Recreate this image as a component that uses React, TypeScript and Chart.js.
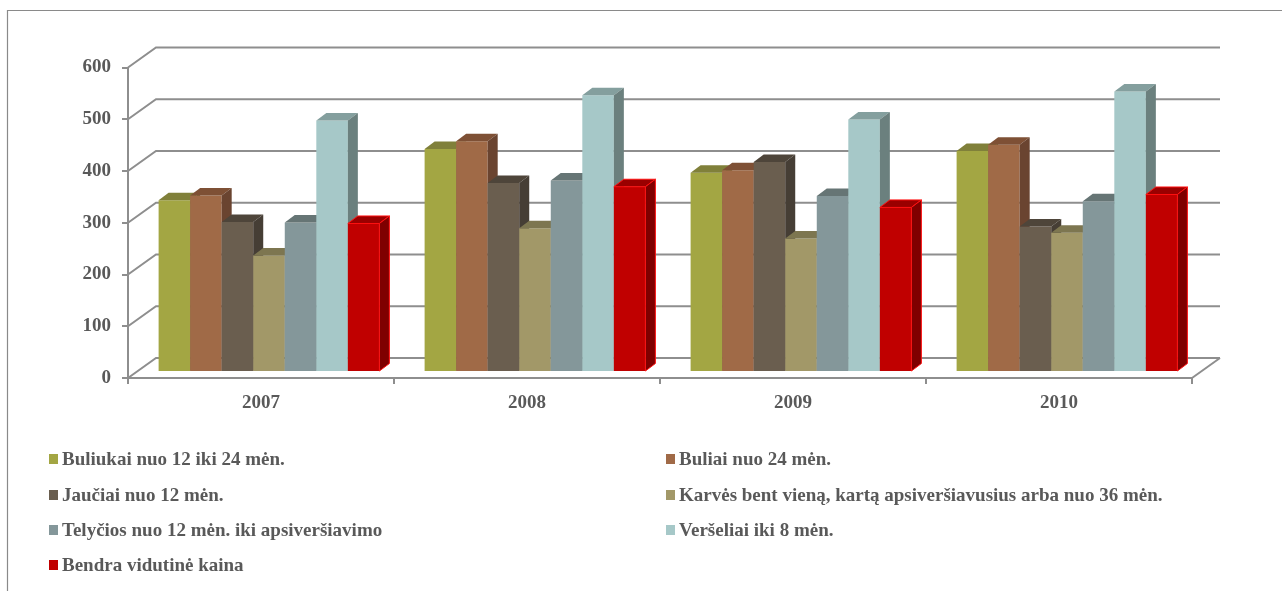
import React, { useEffect, useRef } from 'react';
import { Chart, registerables } from 'chart.js';

Chart.register(...registerables);

// ---------- data ----------
const categories = ['2007', '2008', '2009', '2010'];
const seriesNames = [
  'Buliukai nuo 12 iki 24 mėn.',
  'Buliai nuo 24 mėn.',
  'Jaučiai nuo 12 mėn.',
  'Karvės bent vieną, kartą apsiveršiavusius arba nuo 36 mėn.',
  'Telyčios nuo 12 mėn. iki apsiveršiavimo',
  'Veršeliai iki 8 mėn.',
  'Bendra vidutinė kaina',
];
const buliukai = [332, 431, 385, 427];
const buliai = [341, 446, 390, 439];
const jauciai = [290, 365, 406, 281];
const karves = [225, 278, 258, 269];
const telycios = [289, 370, 340, 330];
const verseliai = [486, 535, 488, 542];
const bendra = [287, 358, 318, 343];
const seriesValues = [buliukai, buliai, jauciai, karves, telycios, verseliai, bendra];
const yMin = 0;
const yMax = 600;
const yStep = 100;

// ---------- styles ----------
const frontColors = ['#A3A643', '#A06A47', '#6A5E4F', '#A29868', '#84979A', '#A6C8C8', '#C00000'];
const topColors = ['#80803A', '#7E5035', '#4E453A', '#7D7650', '#667575', '#849F9E', '#9A0000'];
const sideColors = ['#6E7130', '#6A4430', '#463E35', '#6C6646', '#5F6E6F', '#6B807E', '#7F0000'];
const GRID = '#8E8E8E';
const TEXT = '#595959';
const FONT_FAMILY = "'Liberation Serif', 'Times New Roman', serif";
const FONT_SIZE = 19;

const WALL = { dx: 28, dy: -20 };
const BAR_OFF = { dx: 8, dy: -6 };
const BAR_DEPTH = { dx: 10, dy: -7.5 };

const threeD = {
  id: 'threeD',
  beforeDraw(chart: any) {
    const ctx = chart.ctx;
    ctx.save();
    ctx.strokeStyle = '#8A8A8A';
    ctx.lineWidth = 1.2;
    ctx.beginPath();
    ctx.moveTo(7.5, chart.height + 5);
    ctx.lineTo(7.5, 10.5);
    ctx.lineTo(chart.width + 5, 10.5);
    ctx.stroke();
    ctx.restore();
  },
  beforeDatasetsDraw(chart: any) {
    const ctx = chart.ctx;
    const ys = chart.scales.y;
    const { left, right, bottom } = chart.chartArea;
    ctx.save();
    ctx.strokeStyle = GRID;
    ctx.lineWidth = 2;
    ys.ticks.forEach((t: any) => {
      const y = ys.getPixelForValue(t.value);
      ctx.beginPath();
      ctx.moveTo(left, y);
      ctx.lineTo(left + WALL.dx, y + WALL.dy);
      ctx.lineTo(right + WALL.dx, y + WALL.dy);
      ctx.stroke();
    });
    ctx.beginPath();
    ctx.moveTo(right, bottom);
    ctx.lineTo(right + WALL.dx, bottom + WALL.dy);
    ctx.stroke();
    ctx.restore();
  },
  beforeDatasetDraw() {
    return false;
  },
  afterDatasetsDraw(chart: any) {
    const ctx = chart.ctx;
    ctx.save();
    ctx.translate(BAR_OFF.dx, BAR_OFF.dy);
    chart.data.datasets.forEach((ds: any, i: number) => {
      const meta = chart.getDatasetMeta(i);
      meta.data.forEach((el: any) => {
        const { x, y, base, width } = el.getProps(['x', 'y', 'base', 'width'], true);
        const l = x - width / 2;
        const r = x + width / 2;
        el.draw(ctx);
        ctx.fillStyle = topColors[i];
        ctx.beginPath();
        ctx.moveTo(l, y);
        ctx.lineTo(l + BAR_DEPTH.dx, y + BAR_DEPTH.dy);
        ctx.lineTo(r + BAR_DEPTH.dx, y + BAR_DEPTH.dy);
        ctx.lineTo(r, y);
        ctx.closePath();
        ctx.fill();
        if (i === 6) { ctx.strokeStyle = '#FF1010'; ctx.lineWidth = 1; ctx.stroke(); }
        ctx.fillStyle = sideColors[i];
        ctx.beginPath();
        ctx.moveTo(r, y);
        ctx.lineTo(r + BAR_DEPTH.dx, y + BAR_DEPTH.dy);
        ctx.lineTo(r + BAR_DEPTH.dx, base + BAR_DEPTH.dy);
        ctx.lineTo(r, base);
        ctx.closePath();
        ctx.fill();
        if (i === 6) { ctx.strokeStyle = '#FF1010'; ctx.lineWidth = 1; ctx.stroke(); }
      });
    });
    ctx.restore();
  },
};

function ChartCanvas() {
  const ref = useRef<HTMLCanvasElement | null>(null);
  useEffect(() => {
    if (!ref.current) return;
    const font = { family: FONT_FAMILY, size: FONT_SIZE, weight: 'bold' as const };
    const chart = new Chart(ref.current, {
      type: 'bar',
      data: {
        labels: categories,
        datasets: seriesValues.map((vals, i) => ({
          label: seriesNames[i],
          data: vals,
          backgroundColor: frontColors[i],
          borderColor: i === 6 ? '#E00000' : frontColors[i],
          borderWidth: 0,
          categoryPercentage: 0.83,
          barPercentage: 1,
        })),
      },
      options: {
        animation: false,
        responsive: false,
        maintainAspectRatio: false,
        layout: { padding: { left: 0, top: 67.5, right: 90, bottom: 0 } },
        plugins: { legend: { display: false }, tooltip: { enabled: false } },
        scales: {
          x: {
            grid: { display: true, drawOnChartArea: false, drawTicks: true, tickLength: 6, color: GRID, lineWidth: 2, offset: true },
            border: { display: true, color: GRID, width: 2 },
            ticks: { font, color: TEXT, padding: 8 },
            afterFit: (s: any) => { s.height = 213; },
          },
          y: {
            min: yMin,
            max: yMax,
            ticks: { stepSize: yStep, font, color: TEXT, padding: 11 },
            grid: { drawOnChartArea: false, drawTicks: true, tickLength: 6, color: GRID, lineWidth: 2 },
            border: { display: true, color: GRID, width: 2 },
            afterFit: (s: any) => { s.width = 128; },
          },
        },
      },
      plugins: [threeD],
    } as any);
    return () => chart.destroy();
  }, []);
  return <canvas ref={ref} width={1282} height={591} style={{ width: 1282, height: 591, display: 'block' }} />;
}

const legendPos = [
  { left: 49, top: 459 },
  { left: 666, top: 459 },
  { left: 49, top: 494.7 },
  { left: 666, top: 494.7 },
  { left: 49, top: 530 },
  { left: 666, top: 530 },
  { left: 49, top: 564.7 },
];

export default function App() {
  return (
    <div style={{ position: 'absolute', left: 0, top: 0, width: 1282, height: 591, background: '#fff', overflow: 'hidden' }}>
      <ChartCanvas />
      {seriesNames.map((name, i) => (
        <div
          key={name}
          style={{
            position: 'absolute',
            left: legendPos[i].left,
            top: legendPos[i].top - 12,
            height: 24,
            display: 'flex',
            alignItems: 'center',
            whiteSpace: 'nowrap',
            fontFamily: FONT_FAMILY,
            fontWeight: 'bold',
            fontSize: FONT_SIZE,
            color: TEXT,
          }}
        >
          <span style={{ display: 'inline-block', width: 9, height: 10, background: frontColors[i], marginRight: 4 }} />
          <span>{name}</span>
        </div>
      ))}
    </div>
  );
}
